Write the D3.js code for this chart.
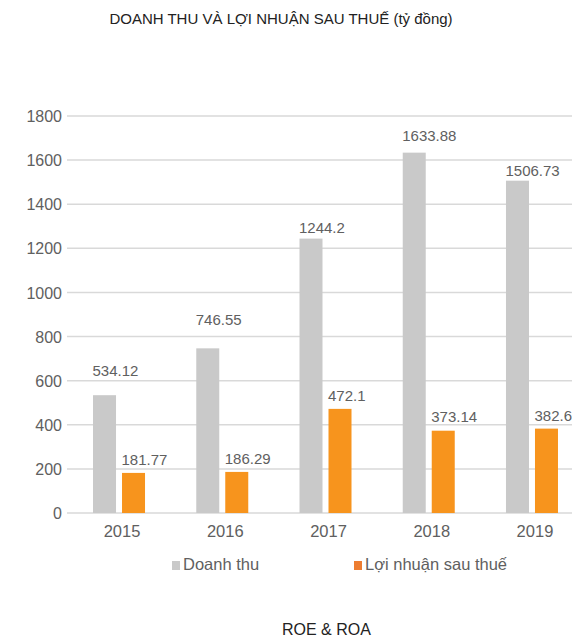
<!DOCTYPE html>
<html><head><meta charset="utf-8">
<script src="https://cdn.jsdelivr.net/npm/d3@7"></script>
<style>body{margin:0;background:#fff}svg{display:block}</style>
</head><body>
<script>
const years = ["2015","2016","2017","2018","2019"];
const doanhThu = [534.12, 746.55, 1244.2, 1633.88, 1506.73];
const loiNhuan = [181.77, 186.29, 472.1, 373.14, 382.6];
const yTicks = [0,200,400,600,800,1000,1200,1400,1600,1800];
const seriesNames = ["Doanh thu", "Lợi nhuận sau thuế"];
const title = "DOANH THU VÀ LỢI NHUẬN SAU THUẾ (tỷ đồng)";
const subtitle = "ROE & ROA";

const W = 572, H = 642;
const font = "'Liberation Sans', Arial, Helvetica, sans-serif";
const txt = "#606060";
const colors = ["#c9c9c9", "#f7941d"];
const legendColors = ["#c9c9c9", "#ed7d31"];

const svg = d3.select("body").append("svg").attr("width", W).attr("height", H);

const x = d3.scaleBand().domain(years).range([67.4, 583.6]).paddingInner(0).paddingOuter(0);
const y = d3.scaleLinear().domain([0, 1800]).range([513, 116]);
const barW = 23, gap = 6;

// grid
svg.append("g").selectAll("line").data(yTicks).join("line")
  .attr("x1", 67).attr("x2", W).attr("y1", d => y(d)).attr("y2", d => y(d))
  .attr("stroke", "#d9d9d9").attr("stroke-width", 1.5);

// y axis labels
const yAxis = d3.axisLeft(y).tickValues(yTicks).tickSize(0).tickPadding(0).tickFormat(d3.format("d"));
const ya = svg.append("g").attr("transform", "translate(62,0)").call(yAxis);
ya.select(".domain").remove();
ya.selectAll("text").attr("font-family", font).attr("font-size", 16).attr("fill", txt).attr("dy", "0.35em");

// x axis labels
const xAxis = d3.axisBottom(x).tickSize(0).tickPadding(0);
const xa = svg.append("g").attr("transform", "translate(3,0)").call(xAxis);
xa.select(".domain").remove();
xa.selectAll("text").attr("font-family", font).attr("font-size", 16.5).attr("fill", txt)
  .attr("y", 537).attr("dy", 0);

const series = [doanhThu, loiNhuan];
const labelLift = [[19, 23, 6, 12, 5], [8, 8, 8, 9, 8]];
series.forEach((vals, si) => {
  const bx = (d, i) => x(years[i]) + x.bandwidth()/2 - barW - gap/2 + si*(barW + gap);
  const g = svg.append("g");
  g.selectAll("rect").data(vals).join("rect")
    .attr("x", bx).attr("width", barW)
    .attr("y", d => y(d)).attr("height", d => y(0) - y(d))
    .attr("fill", colors[si]);
  g.selectAll("text").data(vals).join("text")
    .attr("x", (d, i) => bx(d, i) - 0.5)
    .attr("y", (d, i) => y(d) - labelLift[si][i])
    .attr("font-family", font).attr("font-size", 15).attr("fill", txt)
    .text(d => d);
});

// legend
const legX = [172, 354];
seriesNames.forEach((n, i) => {
  svg.append("rect").attr("x", legX[i]).attr("y", 561).attr("width", 8).attr("height", 9).attr("fill", legendColors[i]);
  svg.append("text").attr("x", legX[i] + 11).attr("y", 570).attr("font-family", font)
    .attr("font-size", 16.5).attr("fill", txt).text(n);
});

// title
svg.append("text").attr("x", 281).attr("y", 24).attr("text-anchor", "middle")
  .attr("font-family", font).attr("font-size", 15).attr("fill", "#222").text(title);
svg.append("text").attr("x", 282).attr("y", 635)
  .attr("font-family", font).attr("font-size", 16).attr("fill", "#222").text(subtitle);
</script>
</body></html>
